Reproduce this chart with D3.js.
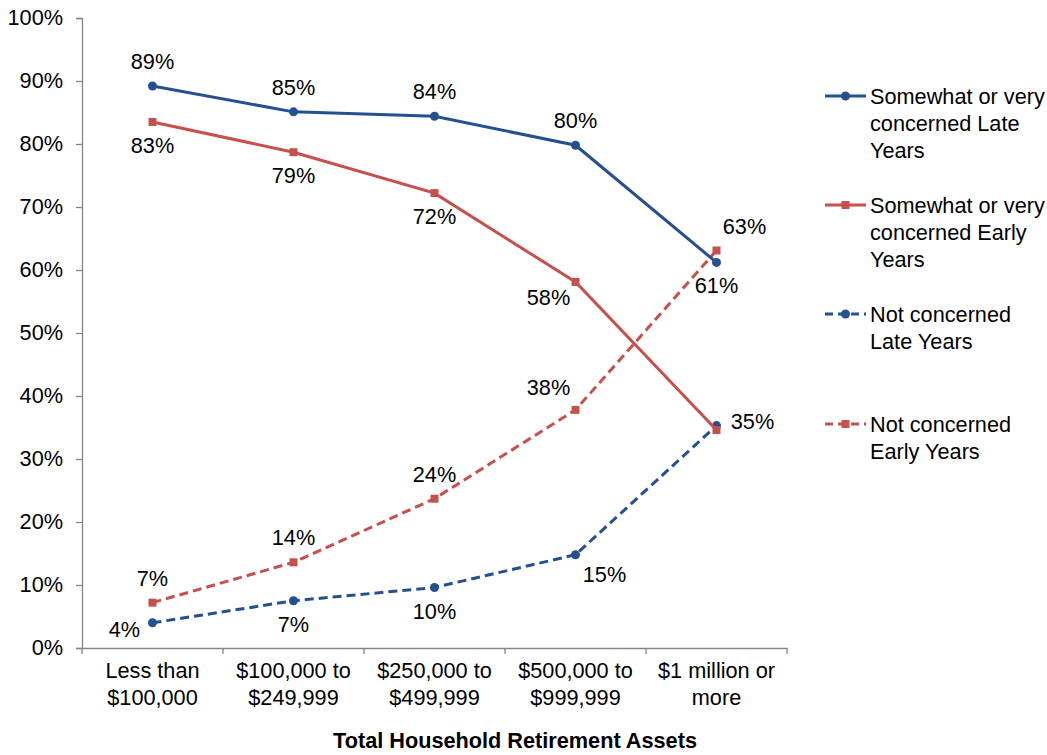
<!DOCTYPE html>
<html>
<head>
<meta charset="utf-8">
<script src="https://cdn.jsdelivr.net/npm/d3@7"></script>
<style>
  body { margin: 0; background: #fff; }
  text { font-family: "Liberation Sans", Arial, sans-serif; fill: #000; }
</style>
</head>
<body>
<div id="chart"></div>
<script>
// Data
const categories = ["Less than\n$100,000", "$100,000 to\n$249,999", "$250,000 to\n$499,999", "$500,000 to\n$999,999", "$1 million or\nmore"];
const yTicks = [0, 10, 20, 30, 40, 50, 60, 70, 80, 90, 100];

const lateConcerned   = [89.2, 85.1, 84.4, 79.8, 61.2];
const earlyConcerned  = [83.5, 78.7, 72.2, 58.1, 34.6];
const lateNot         = [4.0, 7.5, 9.6, 14.8, 35.3];
const earlyNot        = [7.2, 13.6, 23.7, 37.8, 63.1];

const lateConcernedLbl  = ["89%", "85%", "84%", "80%", "61%"];
const earlyConcernedLbl = ["83%", "79%", "72%", "58%", ""];
const lateNotLbl        = ["4%", "7%", "10%", "15%", "35%"];
const earlyNotLbl       = ["7%", "14%", "24%", "38%", "63%"];

// where each label sits relative to its point
const lateConcernedPos  = ["t", "t", "t", "t", "b"];
const earlyConcernedPos = ["b", "b", "b", "lb", "b"];
const lateNotPos        = ["l", "b", "b", "rb", "r"];
const earlyNotPos       = ["t", "t", "t", "lt", "rt"];

const blue = "#25508f", red = "#c5504c";

const series = [
  {name: ["Somewhat or very", "concerned Late", "Years"], values: lateConcerned, labels: lateConcernedLbl, pos: lateConcernedPos, color: blue, dash: null, marker: "circle"},
  {name: ["Somewhat or very", "concerned Early", "Years"], values: earlyConcerned, labels: earlyConcernedLbl, pos: earlyConcernedPos, color: red, dash: null, marker: "square"},
  {name: ["Not concerned", "Late Years"], values: lateNot, labels: lateNotLbl, pos: lateNotPos, color: blue, dash: "9,5", marker: "circle"},
  {name: ["Not concerned", "Early Years"], values: earlyNot, labels: earlyNotLbl, pos: earlyNotPos, color: red, dash: "9,5", marker: "square"}
];

const W = 1047, H = 755;
const plot = {left: 82, right: 787, top: 18, bottom: 648};
const fs = "21.7px";

const svg = d3.select("#chart").append("svg")
  .attr("width", W).attr("height", H);

const x = d3.scaleBand()
  .domain(categories)
  .range([plot.left, plot.right]);

const y = d3.scaleLinear()
  .domain([0, 100])
  .range([plot.bottom, plot.top]);

const axisColor = "#868686";

// Y axis
const yAxis = svg.append("g")
  .attr("transform", `translate(${plot.left},0)`)
  .call(d3.axisLeft(y).tickValues(yTicks).tickSize(6).tickFormat(d => d + "%"));
yAxis.select(".domain").attr("stroke", axisColor).attr("stroke-width", 1.3);
yAxis.selectAll(".tick line").attr("stroke", axisColor).attr("stroke-width", 1.3);
yAxis.selectAll(".tick text")
  .attr("x", -19)
  .style("font-size", fs)
  .style("font-family", "Liberation Sans, Arial, sans-serif")
  .attr("fill", "#000");

// X axis
const xAxis = svg.append("g")
  .attr("transform", `translate(0,${plot.bottom})`)
  .call(d3.axisBottom(x).tickSize(0).tickFormat(""));
xAxis.select(".domain").attr("stroke", axisColor).attr("stroke-width", 1.3);
// tick marks between categories
const bounds = categories.map(c => x(c)).concat([plot.right]);
svg.append("g").selectAll("line")
  .data(bounds)
  .join("line")
  .attr("x1", d => d).attr("x2", d => d)
  .attr("y1", plot.bottom).attr("y2", plot.bottom + 6)
  .attr("stroke", axisColor).attr("stroke-width", 1.3);

svg.append("g").selectAll("text")
  .data(categories)
  .join("text")
  .attr("x", d => x(d) + x.bandwidth() / 2)
  .attr("y", plot.bottom + 30)
  .attr("text-anchor", "middle")
  .style("font-size", fs)
  .selectAll("tspan")
  .data(d => d.split("\n"))
  .join("tspan")
  .attr("x", function() { return d3.select(this.parentNode).attr("x"); })
  .attr("dy", (d, i) => i === 0 ? 0 : 27)
  .text(d => d);

// Axis title
svg.append("text")
  .attr("x", 515)
  .attr("y", 748)
  .attr("text-anchor", "middle")
  .style("font-size", fs)
  .style("font-weight", "bold")
  .text("Total Household Retirement Assets");

const cx = i => x(categories[i]) + x.bandwidth() / 2;

const line = d3.line()
  .x((d, i) => cx(i))
  .y(d => y(d));

function drawMarker(g, s, px, py) {
  if (s.marker === "circle") {
    g.append("circle").attr("cx", px).attr("cy", py).attr("r", 4.5).attr("fill", s.color);
  } else {
    g.append("rect").attr("x", px - 4).attr("y", py - 4).attr("width", 8).attr("height", 8).attr("fill", s.color);
  }
}

const offsets = {
  t: [0, -17], b: [0, 31], l: [-28, 14], r: [36, 3],
  lb: [-27, 23], rb: [29, 27], lt: [-27, -15], rt: [28, -16]
};

// Lines (solid drawn last so they sit above)
[2, 3, 0, 1].forEach(k => {
  const s = series[k];
  const g = svg.append("g");
  g.append("path")
    .datum(s.values)
    .attr("d", line)
    .attr("fill", "none")
    .attr("stroke", s.color)
    .attr("stroke-width", 3)
    .attr("stroke-dasharray", s.dash);
  s.values.forEach((v, i) => drawMarker(g, s, cx(i), y(v)));
});

// Data labels
series.forEach(s => {
  svg.append("g").selectAll("text")
    .data(s.values)
    .join("text")
    .attr("x", (d, i) => cx(i) + offsets[s.pos[i]][0])
    .attr("y", (d, i) => y(d) + offsets[s.pos[i]][1])
    .attr("text-anchor", "middle")
    .style("font-size", fs)
    .text((d, i) => s.labels[i]);
});

// Legend
const legendX = 825, legendY = [96, 205, 314, 424];
series.forEach((s, k) => {
  const g = svg.append("g").attr("transform", `translate(${legendX},${legendY[k]})`);
  g.append("line")
    .attr("x1", 0).attr("x2", 41)
    .attr("y1", 0).attr("y2", 0)
    .attr("stroke", s.color).attr("stroke-width", 3)
    .attr("stroke-dasharray", s.dash ? "8,5" : null);
  drawMarker(g, s, 20.5, 0);
  g.append("text")
    .attr("x", 45).attr("y", 8)
    .style("font-size", fs)
    .selectAll("tspan")
    .data(s.name)
    .join("tspan")
    .attr("x", 45)
    .attr("dy", (d, i) => i === 0 ? 0 : 27)
    .text(d => d);
});
</script>
</body>
</html>
